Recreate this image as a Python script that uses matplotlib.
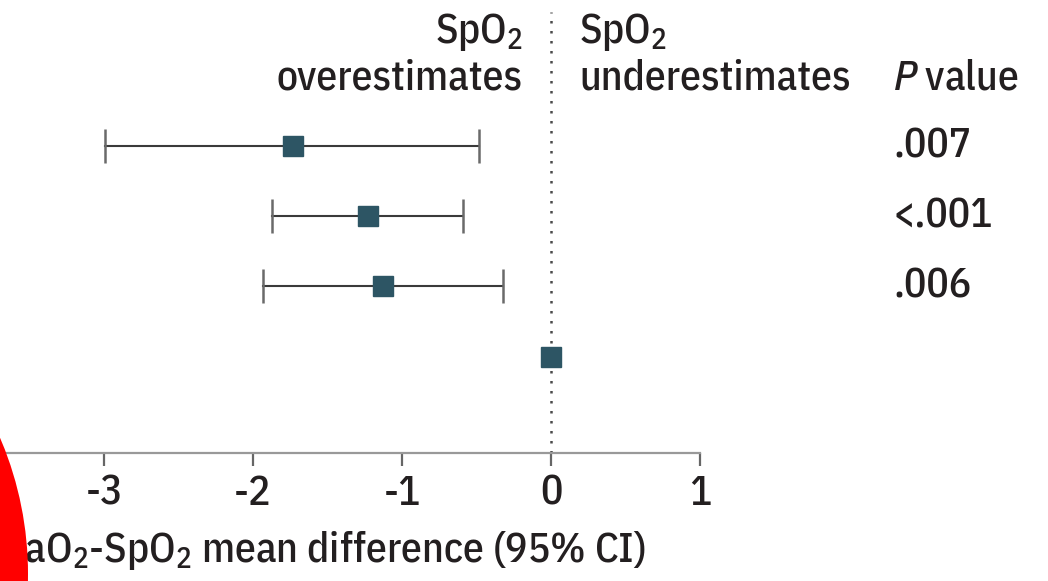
import numpy as np
import matplotlib
matplotlib.use('Agg')
import matplotlib.pyplot as plt
from matplotlib.patches import Ellipse

# Data
rows = [1, 2, 3, 4]
means = [-1.73, -1.23, -1.13, 0.0]
ci_low = [-2.99, -1.87, -1.93, 0.0]
ci_high = [-0.48, -0.59, -0.32, 0.0]
p_values = ['.007', '<.001', '.006', '']
xticks = [-3, -2, -1, 0, 1]

plt.rcParams['font.family'] = ['IBM Plex Sans Condensed', 'DejaVu Sans']
plt.rcParams['font.weight'] = 500
plt.rcParams['mathtext.fontset'] = 'custom'
plt.rcParams['mathtext.rm'] = 'IBM Plex Sans Condensed:medium'
plt.rcParams['mathtext.it'] = 'IBM Plex Sans Condensed:italic:medium'

FS = 30
W, H = 1048, 581
fig = plt.figure(figsize=(W / 100, H / 100), dpi=100)

def fx(px):
    return px / W

def fy(py):
    return 1 - py / H

# axes: bottom edge at the axis line (y=453 px), full width
ax = fig.add_axes([0, fy(453), 1, 453 / H])
ax.set_xlim(-551 / 149, (W - 551) / 149)
ax.set_ylim(5.37, -1.077)

txt_color = '#231f20'
mark_color = '#2d5564'

# reference line (stops a little below the top edge)
ax.axvline(0, ymax=0.974, color='#4a4a4a', linestyle=(0, (1, 3)),
           linewidth=1.8, zorder=1)

# CIs (skip the reference row)
for r, m, lo, hi in zip(rows, means, ci_low, ci_high):
    if lo != hi:
        ax.plot([lo, hi], [r, r], color='#3a3a3a', linewidth=1.5, zorder=2)
        ax.plot([lo, hi], [r, r], linestyle='none', marker='|', markersize=24,
                markeredgewidth=1.8, color='#6a6a6a', zorder=2)
ax.plot(means, rows, linestyle='none', marker='s', markersize=14,
        color=mark_color, zorder=3)

for r, p in zip(rows, p_values):
    ax.text((893 - 551) / 149, r, p, fontsize=FS, color=txt_color,
            ha='left', va='center')

# spines / ticks
for s in ['top', 'right', 'left']:
    ax.spines[s].set_visible(False)
ax.spines['bottom'].set_color('#999999')
ax.spines['bottom'].set_linewidth(1.6)
ax.spines['bottom'].set_bounds(ax.get_xlim()[0], 1)
ax.set_yticks([])
ax.set_xticks(xticks)
ax.set_xticklabels([str(t) if t >= 0 else '-' + str(-t) for t in xticks])
ax.tick_params(axis='x', length=9, width=1.6, color='#666666',
               labelsize=FS, labelcolor=txt_color, pad=6)
ax.patch.set_alpha(0)

# headers
fig.text(fx(523), fy(32), 'SpO$_2$', fontsize=FS, color=txt_color,
         ha='right', va='center')
fig.text(fx(523), fy(78), 'overestimates', fontsize=FS, color=txt_color,
         ha='right', va='center')
fig.text(fx(579), fy(32), 'SpO$_2$', fontsize=FS, color=txt_color,
         ha='left', va='center')
fig.text(fx(579), fy(78), 'underestimates', fontsize=FS, color=txt_color,
         ha='left', va='center')
fig.text(fx(893), fy(78), '$\\mathit{P}$ value', fontsize=FS,
         color=txt_color, ha='left', va='center')

# x axis label (its first letter is hidden under the red shape)
fig.text(fx(2), fy(550), 'SaO$_2$-SpO$_2$ mean difference (95% CI)',
         fontsize=FS, color=txt_color, ha='left', va='center')

# red blob at the lower left corner
fig.patches.append(Ellipse((fx(-318), fy(574)), 2 * 346 / W, 2 * 346 / H,
                           transform=fig.transFigure, facecolor='#ff0000',
                           edgecolor='none', zorder=10))

fig.savefig('out.png', dpi=100)
